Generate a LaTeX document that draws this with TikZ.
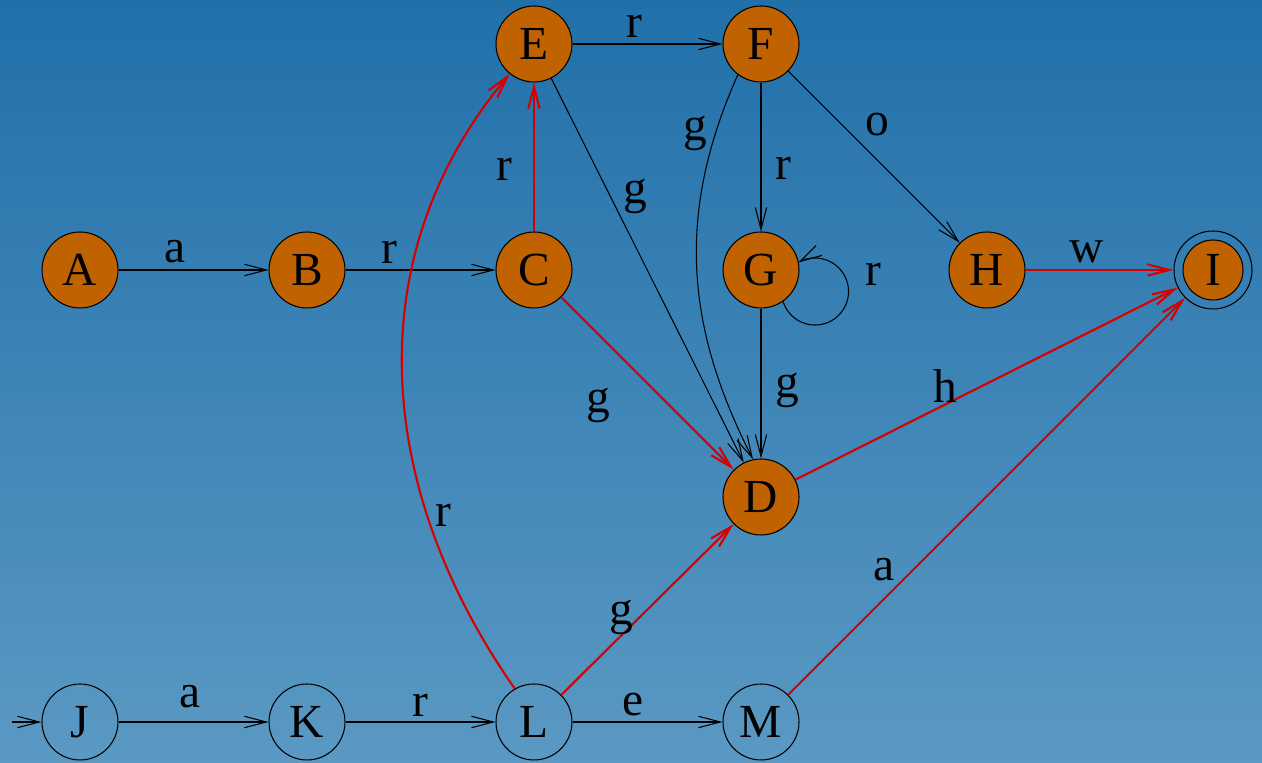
\documentclass[tikz,border=0pt]{standalone}
\usepackage{fontspec}
\setmainfont{Liberation Serif}
\usetikzlibrary{arrows.meta}
\definecolor{bgtop}{RGB}{33,112,170}
\definecolor{bgbot}{RGB}{90,153,195}
\definecolor{orng}{RGB}{192,98,0}
\definecolor{redl}{RGB}{215,0,0}
\begin{document}
\begin{tikzpicture}[x=0.02cm,y=0.02cm,
  st/.style={circle,draw=black,line width=0.6pt,minimum size=1.52cm,inner sep=0pt,font=\fontsize{27}{31}\selectfont},
  fst/.style={st,fill=orng},
  lbl/.style={inner sep=0pt,font=\fontsize{27}{31}\selectfont},
  bl/.style={draw=black,line width=0.6pt,-{Straight Barb[length=12.5pt,width=6.5pt]}},
  rd/.style={draw=redl,line width=1.2pt,-{Straight Barb[length=12.5pt,width=6.5pt]}}]
\fill[top color=bgtop,bottom color=bgbot] (0,0) rectangle (1262,763);
\useasboundingbox (0,0) rectangle (1262,763);
% nodes
\node[fst] (A) at (80,493) {A};
\node[fst] (B) at (307,493) {B};
\node[fst] (C) at (534,493) {C};
\node[fst] (E) at (534,719) {E};
\node[fst] (F) at (761,719) {F};
\node[fst] (G) at (761,493) {G};
\node[fst] (H) at (987,493) {H};
\node[circle,draw=black,line width=0.6pt,minimum size=1.56cm,inner sep=0pt] (I) at (1213,493) {};
\node[fst,minimum size=1.2cm] (Ii) at (1213,493) {I};
\node[fst] (D) at (761,266) {D};
\node[st] (J) at (80,41) {J};
\node[st] (K) at (307,41) {K};
\node[st] (L) at (534,41) {L};
\node[st] (M) at (761,41) {M};
\coordinate (init) at (12,41);
% black edges
\draw[bl] (init) -- (J);
\draw[bl] (A) -- (B);
\draw[bl] (B) -- (C);
\draw[bl] (E) -- (F);
\draw[bl] (E) -- (D);
\draw[bl] (F.-127) to[out=-114,in=117] (D.102);
\draw[bl] (F) -- (G);
\draw[bl] (F) -- (H);
\draw[bl] (G.-55) arc[start angle=197.4, end angle=480.2, radius=33.5];
\draw[bl] (G) -- (D);
\draw[bl] (J) -- (K);
\draw[bl] (K) -- (L);
\draw[bl] (L) -- (M);
% red edges
\draw[rd] (C) -- (E);
\draw[rd] (H) -- (I);
\draw[rd] (C) -- (D);
\draw[rd] (D) -- (I);
\draw[rd] (L.120) to[out=125,in=-130] (E.-129);
\draw[rd] (L) -- (D);
\draw[rd] (M) -- (I);
% labels
\node[lbl] (l1) at (175,511) {a};
\node[lbl] (l2) at (389,511) {r};
\node[lbl] (l3) at (504,594) {r};
\node[lbl] (l4) at (634,737) {r};
\node[lbl] (l5) at (635,567) {g};
\node[lbl] (l6) at (695,630) {g};
\node[lbl] (l7) at (783,595) {r};
\node[lbl] (l8) at (877,638) {o};
\node[lbl] (l9) at (873,489) {r};
\node[lbl] (l10) at (1087,511) {w};
\node[lbl] (l11) at (598,358) {g};
\node[lbl] (l12) at (787,373) {g};
\node[lbl] (l13) at (945,377) {h};
\node[lbl] (l14) at (443,248) {r};
\node[lbl] (l15) at (621,146) {g};
\node[lbl] (l16) at (884,193) {a};
\node[lbl] (l17) at (190,66) {a};
\node[lbl] (l18) at (420,58) {r};
\node[lbl] (l19) at (633,58) {e};
\end{tikzpicture}
\end{document}
